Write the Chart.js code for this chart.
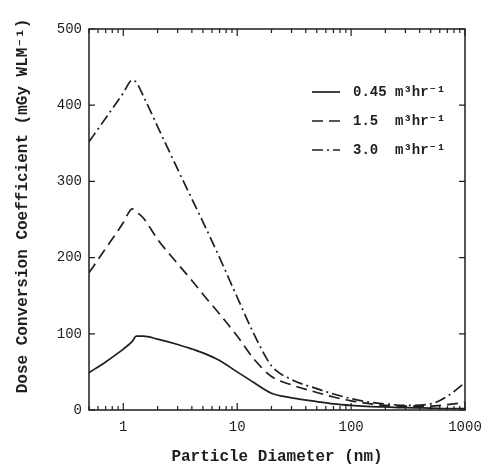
<!DOCTYPE html>
<html>
<head>
<meta charset="utf-8">
<script src="https://cdn.jsdelivr.net/npm/chart.js@4/dist/chart.umd.min.js"></script>
<style>
  html, body { margin: 0; padding: 0; background: #fff; }
  #wrap { width: 484px; height: 467px; }
</style>
</head>
<body>
<div id="wrap"><canvas id="chart" width="484" height="467"></canvas></div>
<script>
// particle diameter (nm)
const diameters = [0.5, 0.7, 0.85, 1, 1.2, 1.3, 1.5, 2, 3, 4, 5, 7, 10, 14, 20, 30, 50, 70, 100, 150, 200, 300, 500, 700, 1000];

// dose conversion coefficient (mGy WLM^-1) for each breathing rate
const rate045 = [49, 63, 72, 80, 90, 97, 97, 93, 86, 80, 75, 65, 50, 36, 22, 16, 11, 8, 6, 4.5, 4, 3, 2.5, 2, 2];
const rate15  = [180, 212, 230, 246, 264, 260, 252, 224, 192, 170, 152, 126, 97, 67, 44, 33, 23, 17, 12, 8, 6, 5, 5, 7, 10];
const rate30  = [352, 383, 401, 416, 433, 430, 412, 372, 316, 277, 247, 200, 148, 100, 58, 40, 28, 21, 15, 10, 8, 6, 8, 18, 36];

const seriesLabels = ['0.45 m\u00b3hr\u207b\u00b9', '1.5  m\u00b3hr\u207b\u00b9', '3.0  m\u00b3hr\u207b\u00b9'];
const xTickValues = [1, 10, 100, 1000];
const yTickValues = [0, 100, 200, 300, 400, 500];

const ink = '#1e1e1e';
const mono = '"Liberation Mono", "DejaVu Sans Mono", monospace';

function toPoints(vals) {
  return diameters.map((d, i) => ({ x: d, y: vals[i] }));
}

// frame, inward ticks, y title and in-plot legend
const decorPlugin = {
  id: 'decor',
  afterDraw(chart) {
    const { ctx, chartArea: a, scales } = chart;
    const xs = scales.x, ys = scales.y;
    ctx.save();
    ctx.strokeStyle = ink;
    ctx.lineWidth = 1.5;
    ctx.setLineDash([]);
    ctx.strokeRect(a.left, a.top, a.right - a.left, a.bottom - a.top);

    // x ticks (log minor + decade majors), top and bottom
    ctx.lineWidth = 1.2;
    ctx.beginPath();
    for (let e = -1; e <= 3; e++) {
      for (let m = 1; m <= 9; m++) {
        const v = m * Math.pow(10, e);
        if (v < 0.5 || v > 1000) continue;
        const px = xs.getPixelForValue(v);
        const len = m === 1 ? 7 : 4;
        ctx.moveTo(px, a.bottom); ctx.lineTo(px, a.bottom - len);
        ctx.moveTo(px, a.top); ctx.lineTo(px, a.top + len);
      }
    }
    yTickValues.forEach(v => {
      const py = ys.getPixelForValue(v);
      ctx.moveTo(a.left, py); ctx.lineTo(a.left + 6, py);
      ctx.moveTo(a.right, py); ctx.lineTo(a.right - 6, py);
    });
    ctx.stroke();

    // y axis title
    ctx.fillStyle = ink;
    ctx.font = 'bold 16px ' + mono;
    ctx.textAlign = 'center';
    ctx.textBaseline = 'middle';
    ctx.translate(23, 206);
    ctx.rotate(-Math.PI / 2);
    ctx.fillText('Dose Conversion Coefficient (mGy WLM\u207b\u00b9)', 0, 0);
    ctx.setTransform(1, 0, 0, 1, 0, 0);

    // legend
    ctx.font = 'bold 14px ' + mono;
    ctx.textAlign = 'left';
    chart.data.datasets.forEach((ds, i) => {
      const y = a.top + 63 + i * 29;
      const x0 = a.right - 153;
      ctx.beginPath();
      ctx.lineWidth = ds.borderWidth;
      ctx.setLineDash(ds.borderDash || []);
      ctx.moveTo(x0, y);
      ctx.lineTo(x0 + 28, y);
      ctx.stroke();
      ctx.setLineDash([]);
      ctx.fillText(ds.label, x0 + 41, y);
    });
    ctx.restore();
  }
};

new Chart(document.getElementById('chart'), {
  type: 'line',
  data: {
    datasets: [
      { label: seriesLabels[0], data: toPoints(rate045), borderColor: ink, borderWidth: 1.7, borderDash: [] },
      { label: seriesLabels[1], data: toPoints(rate15), borderColor: ink, borderWidth: 1.7, borderDash: [11, 6] },
      { label: seriesLabels[2], data: toPoints(rate30), borderColor: ink, borderWidth: 1.7, borderDash: [11, 4, 2, 4] }
    ]
  },
  options: {
    responsive: false,
    animation: false,
    layout: { padding: { top: 29, right: 19, left: 0, bottom: 0 } },
    elements: { point: { radius: 0 }, line: { cubicInterpolationMode: 'monotone', fill: false } },
    plugins: { legend: { display: false }, tooltip: { enabled: false } },
    scales: {
      x: {
        type: 'logarithmic',
        min: 0.5,
        max: 1000,
        grid: { display: false, drawTicks: false },
        border: { display: false },
        afterBuildTicks: s => { s.ticks = xTickValues.map(v => ({ value: v })); },
        afterFit: s => { s.height = 57; s.paddingLeft = 0; s.paddingRight = 0; },
        ticks: {
          color: ink,
          font: { family: mono, size: 14 },
          padding: 9,
          autoSkip: false,
          maxRotation: 0,
          callback: v => String(v)
        },
        title: {
          display: true,
          text: 'Particle Diameter (nm)',
          color: ink,
          font: { family: mono, size: 16, weight: 'bold' },
          padding: { top: 0, bottom: 0 }
        }
      },
      y: {
        min: 0,
        max: 500,
        grid: { display: false, drawTicks: false },
        border: { display: false },
        afterBuildTicks: s => { s.ticks = yTickValues.map(v => ({ value: v })); },
        afterFit: s => { s.width = 89; s.paddingTop = 0; s.paddingBottom = 0; },
        ticks: {
          color: ink,
          font: { family: mono, size: 14 },
          padding: 7
        }
      }
    }
  },
  plugins: [decorPlugin]
});
</script>
</body>
</html>
